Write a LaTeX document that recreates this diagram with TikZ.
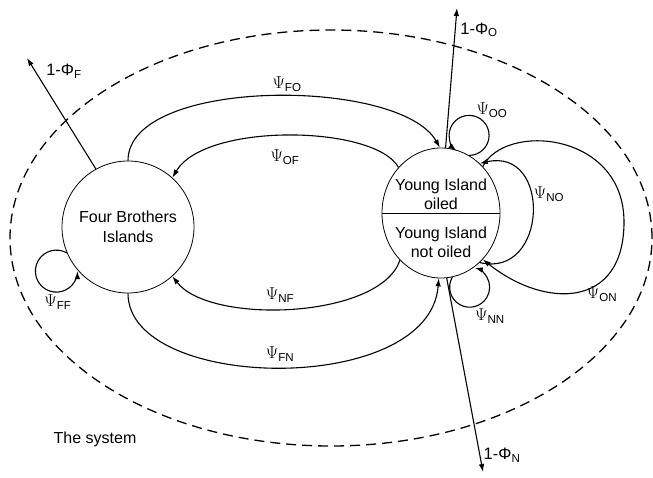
\documentclass[tikz,border=0pt]{standalone}
\usepackage{amsmath}
\usepackage{fontspec}
\setmainfont{Liberation Sans}
\setsansfont{Liberation Sans}
\usetikzlibrary{shapes.geometric,arrows.meta}

\begin{document}
\begin{tikzpicture}[x=1pt,y=1pt,
  isl/.style={draw,line width=0.8pt,inner sep=0pt,align=center,
              font=\fontsize{16}{20}\selectfont},
  txt/.style={align=center,inner sep=0pt,font=\fontsize{16}{19}\selectfont},
  flow/.style={-{Latex[length=8pt,width=5.5pt]},line width=1.1pt},
  lbl/.style={font=\fontsize{16.5}{19}\selectfont,inner sep=1pt},
  sys/.style={line width=1.3pt,dash pattern=on 10pt off 6pt}
]
\useasboundingbox (0,0) rectangle (653,477);
\draw[sys] (331,239) ellipse [x radius=321,y radius=208];

% islands
\node[isl,circle,minimum size=132pt] (four) at (128,250) {Four Brothers\\Islands};
\node[isl,ellipse,minimum width=118pt,minimum height=130pt] (young) at (441,264) {};
\draw[line width=0.8pt] (young.west) -- (young.east);
\node[txt] (oiled) at (441,283) {Young Island\\oiled};
\node[txt] (notoiled) at (441,235) {Young Island\\not oiled};

% losses out of the system
\coordinate (outF) at (27,419);
\coordinate (outO) at (457,469);
\coordinate (outN) at (483,5);
\draw[flow] (four.119) -- (outF);
\draw[flow] (young.86) -- (outO);
\draw[flow] (young.275) -- (outN);
\node[lbl] (lF) at (64,406) {1-Φ$_{\textsf{F}}$};
\node[lbl] (lO) at (479,447) {1-Φ$_{\textsf{O}}$};
\node[lbl] (lN) at (502,22) {1-Φ$_{\textsf{N}}$};

% movements between islands
\draw[flow] (four.north) .. controls (128,400) and (400,400) .. (young.91);
\draw[flow] (young.133) .. controls (375,352) and (205,355) .. (four.48);
\draw[flow] (young.229) .. controls (380,158) and (210,152) .. (four.312);
\draw[flow] (four.south) .. controls (128,85) and (430,80) .. (young.268);
\draw[flow] (young.308) .. controls (548,198) and (552,330) .. (young.52);
\draw[flow] (young.48) .. controls (505,355) and (624,345) .. (624,255)
  .. controls (624,168) and (545,168) .. (young.312);

% staying put
\draw[flow] (four.203) arc[start angle=60,end angle=360,radius=21];
\draw[flow] (young.64) arc[start angle=-90,end angle=230,radius=20];
\draw[flow] (young.280) arc[start angle=150,end angle=435,radius=20];

\node[lbl] (lFO) at (287,393) {$\Psi_{\textsf{FO}}$};
\node[lbl] (lOF) at (285,320) {$\Psi_{\textsf{OF}}$};
\node[lbl] (lNF) at (280,182) {$\Psi_{\textsf{NF}}$};
\node[lbl] (lFN) at (280,123) {$\Psi_{\textsf{FN}}$};
\node[lbl] (lOO) at (492,367) {$\Psi_{\textsf{OO}}$};
\node[lbl] (lNO) at (549,283) {$\Psi_{\textsf{NO}}$};
\node[lbl] (lON) at (602,183) {$\Psi_{\textsf{ON}}$};
\node[lbl] (lNN) at (490,161) {$\Psi_{\textsf{NN}}$};
\node[lbl] (lFF) at (58,175) {$\Psi_{\textsf{FF}}$};

\node[txt] (system) at (95,38) {The system};
\end{tikzpicture}
\end{document}
